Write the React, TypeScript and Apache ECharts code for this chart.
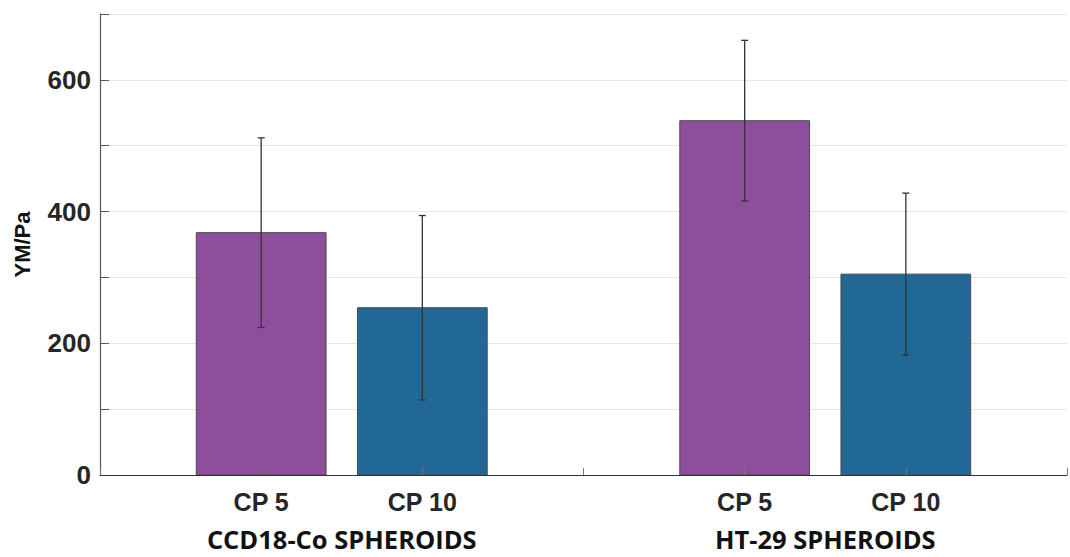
import React, { useEffect, useRef } from "react";
import * as echarts from "echarts";

// Slots along the x axis; empty strings are spacer positions between the groups.
const slotLabels = ["", "CP 5", "CP 10", "", "CP 5", "CP 10", ""];
const groupNames = ["CCD18-Co SPHEROIDS", "HT-29 SPHEROIDS"];
const groupCenters = [1.5, 4.5];

// Young's modulus means and standard deviations, in slot order of the bars.
const meanYM = [368, 254, 538, 305];
const sdYM = [144, 140, 122, 123];
const barColors = ["#8d4f9b", "#216897", "#8d4f9b", "#216897"];

const yTicks = [0, 200, 400, 600];

const barSlots = slotLabels
  .map((s, i) => (s ? i : -1))
  .filter((i) => i >= 0);

export default function App() {
  const ref = useRef<HTMLDivElement>(null);

  useEffect(() => {
    if (!ref.current) return;
    const chart = echarts.init(ref.current, undefined, { renderer: "svg" });

    const barData = barSlots.map((x, i) => [x, meanYM[i], i]);
    const errData = barSlots.map((x, i) => [x, meanYM[i] - sdYM[i], meanYM[i] + sdYM[i]]);

    chart.setOption({
      animation: false,
      backgroundColor: "#ffffff",
      grid: { left: 100, right: 1, top: 14, bottom: 82, containLabel: false },
      xAxis: [
        {
          type: "value",
          min: 0,
          max: slotLabels.length - 1,
          interval: 1,
          z: 5,
          axisLine: { show: true, onZero: false, lineStyle: { color: "#333333", width: 1.2 } },
          axisTick: { show: true, inside: true, length: 7, lineStyle: { color: "#777777", width: 1 } },
          splitLine: { show: false },
          axisLabel: {
            margin: 14,
            formatter: (v: number) => slotLabels[Math.round(v)] ?? "",
            fontFamily: "Liberation Sans, Arial, sans-serif",
            fontWeight: "bold",
            fontSize: 25,
            color: "#262626",
          },
        },
        {
          type: "value",
          min: 0,
          max: slotLabels.length - 1,
          interval: 0.5,
          position: "bottom",
          offset: 43,
          axisLine: { show: false },
          axisTick: { show: false },
          splitLine: { show: false },
          axisLabel: {
            margin: 8,
            formatter: (v: number) => {
              const k = groupCenters.indexOf(v);
              return k >= 0 ? groupNames[k] : "";
            },
            fontFamily: "Open Sans, sans-serif",
            fontWeight: "bold",
            fontSize: 25.5,
            color: "#111111",
          },
        },
      ],
      yAxis: {
        type: "value",
        min: 0,
        max: 700,
        interval: 100,
        name: "YM/Pa",
        nameLocation: "middle",
        nameGap: 67,
        nameRotate: 90,
        nameTextStyle: {
          fontFamily: "Liberation Sans, Arial, sans-serif",
          fontWeight: "bold",
          fontSize: 22,
          color: "#111111",
        },
        axisLine: { show: true, lineStyle: { color: "#555555", width: 1.2 } },
        axisTick: { show: true, inside: true, length: 9, lineStyle: { color: "#555555" } },
        splitLine: { show: true, lineStyle: { color: "#e6e6e6", width: 1.2 } },
        axisLabel: {
          margin: 9,
          formatter: (v: number) => (yTicks.includes(v) ? String(v) : ""),
          fontFamily: "Liberation Sans, Arial, sans-serif",
          fontWeight: "bold",
          fontSize: 26,
          color: "#262626",
        },
      },
      series: [
        {
          type: "custom",
          xAxisIndex: 0,
          z: 2,
          data: barData,
          encode: { x: 0, y: 1 },
          renderItem: (params: any, api: any) => {
            const x = api.value(0);
            const y = api.value(1);
            const idx = api.value(2);
            const top = api.coord([x, y]);
            const base = api.coord([x, 0]);
            const w = api.size([0.805, 0])[0];
            return {
              type: "rect",
              shape: { x: top[0] - w / 2, y: top[1], width: w, height: base[1] - top[1] },
              style: { fill: barColors[idx], stroke: "#4a4a4a", lineWidth: 1 },
            };
          },
        },
        {
          type: "custom",
          xAxisIndex: 0,
          z: 6,
          data: errData,
          encode: { x: 0, y: [1, 2] },
          renderItem: (params: any, api: any) => {
            const x = api.value(0);
            const lo = api.coord([x, api.value(1)]);
            const hi = api.coord([x, api.value(2)]);
            const cap = 3.5;
            const st = { stroke: "#333333", lineWidth: 1.3 };
            return {
              type: "group",
              children: [
                { type: "line", shape: { x1: lo[0], y1: lo[1], x2: hi[0], y2: hi[1] }, style: st },
                { type: "line", shape: { x1: hi[0] - cap, y1: hi[1], x2: hi[0] + cap, y2: hi[1] }, style: st },
                { type: "line", shape: { x1: lo[0] - cap, y1: lo[1], x2: lo[0] + cap, y2: lo[1] }, style: st },
              ],
            };
          },
        },
      ],
    });

    return () => chart.dispose();
  }, []);

  return (
    <div
      ref={ref}
      style={{ position: "fixed", left: 0, top: 0, width: 1070, height: 557, background: "#fff" }}
    />
  );
}
